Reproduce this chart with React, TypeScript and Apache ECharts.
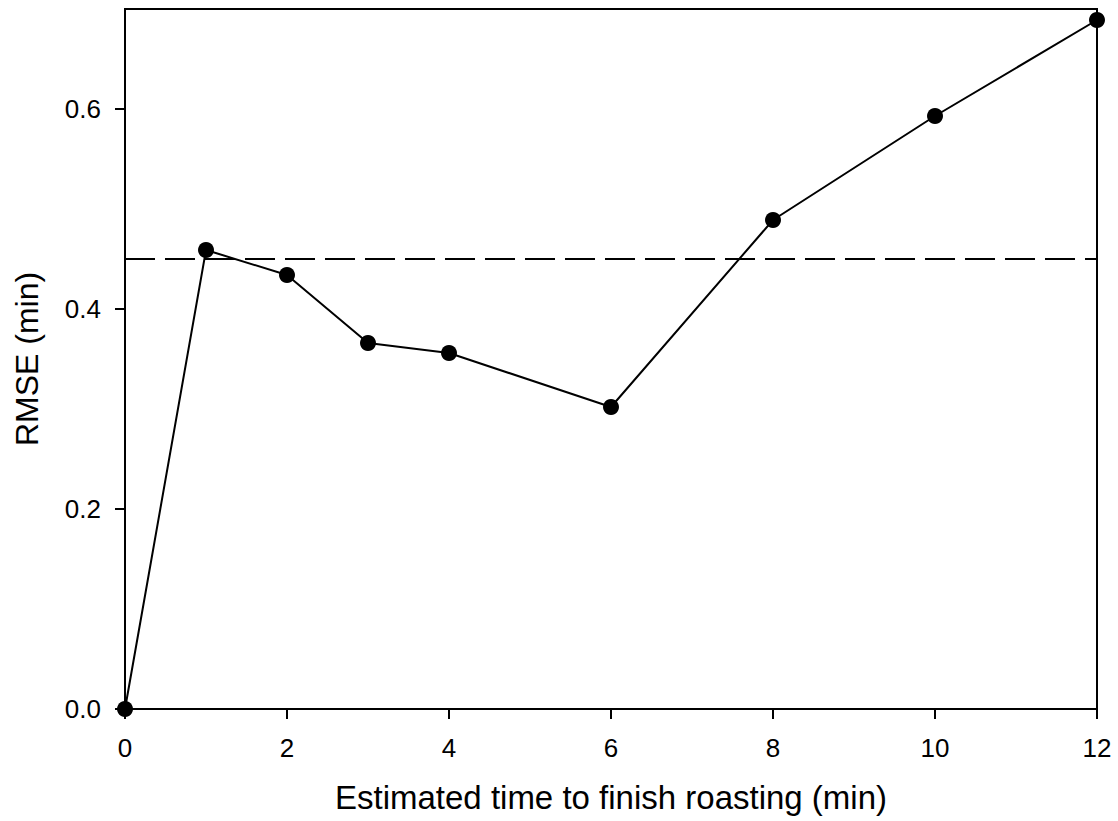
import React, { useEffect, useRef } from "react";
import * as echarts from "echarts";

const timeToFinish = [0, 1, 2, 3, 4, 6, 8, 10, 12];
const rmseValues = [0, 0.459, 0.434, 0.366, 0.356, 0.302, 0.489, 0.593, 0.689];
const thresholdValue = 0.45;
const xTicks = [0, 2, 4, 6, 8, 10, 12];
const yTicks = [0, 0.2, 0.4, 0.6];

export default function App() {
  const ref = useRef<HTMLDivElement>(null);
  useEffect(() => {
    if (!ref.current) return;
    const chart = echarts.init(ref.current, undefined, { renderer: "svg" });
    const font = "'Liberation Sans', Arial, sans-serif";
    chart.setOption({
      animation: false,
      backgroundColor: "#ffffff",
      grid: {
        left: 125,
        right: 21,
        top: 9,
        bottom: 112,
        show: true,
        borderColor: "#000",
        borderWidth: 2,
      },
      xAxis: {
        type: "value",
        min: 0,
        max: 12,
        interval: 2,
        name: "Estimated time to finish roasting (min)",
        nameLocation: "middle",
        nameGap: 72,
        nameTextStyle: { fontFamily: font, fontSize: 33, color: "#000" },
        axisLine: { show: true, lineStyle: { color: "#000", width: 2 } },
        axisTick: { show: true, inside: false, length: 10, lineStyle: { color: "#000", width: 2 }, customValues: xTicks },
        axisLabel: { fontFamily: font, fontSize: 26, color: "#000", margin: 26, customValues: xTicks },
        splitLine: { show: false },
      },
      yAxis: {
        type: "value",
        min: 0,
        max: 0.7,
        name: "RMSE (min)",
        nameLocation: "middle",
        nameGap: 82,
        nameTextStyle: { fontFamily: font, fontSize: 32, color: "#000" },
        axisLine: { show: true, lineStyle: { color: "#000", width: 2 } },
        axisTick: { show: true, inside: false, length: 10, lineStyle: { color: "#000", width: 2 }, customValues: yTicks },
        axisLabel: {
          fontFamily: font,
          fontSize: 26,
          color: "#000",
          margin: 24,
          customValues: yTicks,
          formatter: (v: number) => v.toFixed(1),
        },
        splitLine: { show: false },
      },
      series: [
        {
          type: "line",
          data: timeToFinish.map((x, i) => [x, rmseValues[i]]),
          symbol: "circle",
          symbolSize: 16,
          clip: false,
          itemStyle: { color: "#000" },
          lineStyle: { color: "#000", width: 2 },
          markLine: {
            silent: true,
            symbol: "none",
            label: { show: false },
            lineStyle: { color: "#000", width: 2, type: [30, 10] },
            data: [{ yAxis: thresholdValue }],
          },
        },
      ],
    });
    return () => chart.dispose();
  }, []);
  return (
    <div
      ref={ref}
      style={{ position: "fixed", left: 0, top: 0, width: 1118, height: 821, background: "#fff" }}
    />
  );
}
